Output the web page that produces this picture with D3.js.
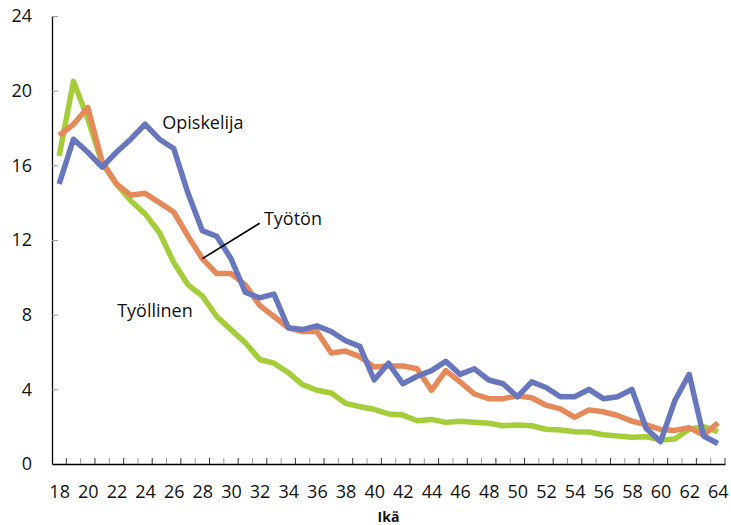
<!DOCTYPE html>
<html>
<head>
<meta charset="utf-8">
<script src="https://cdn.jsdelivr.net/npm/d3@7"></script>
<style>
  body { margin: 0; background: #fff; }
  svg { font-family: "Open Sans", "DejaVu Sans", sans-serif; }
</style>
</head>
<body>
<svg class="main" width="731" height="525"></svg>
<script>
// ikävuodet 18..64
const ages = d3.range(18, 65)

// Opiskelija
const opiskelija = [15.0, 17.4, 16.7, 15.9, 16.7, 17.4, 18.2, 17.4, 16.9, 14.5,
  12.5, 12.2, 11.0, 9.2, 8.9, 9.1, 7.3, 7.2, 7.4, 7.1,
  6.6, 6.3, 4.5, 5.4, 4.3, 4.7, 5.0, 5.5, 4.8, 5.1,
  4.5, 4.3, 3.6, 4.4, 4.1, 3.6, 3.6, 4.0, 3.5, 3.6,
  4.0, 1.9, 1.2, 3.4, 4.8, 1.5, 1.1]

// Työtön
const tyoton = [17.6, 18.2, 19.1, 16.2, 15.0, 14.4, 14.5, 14.0, 13.5, 12.2,
  11.0, 10.2, 10.2, 9.6, 8.5, 7.9, 7.3, 7.1, 7.1, 5.95,
  6.05, 5.75, 5.2, 5.25, 5.25, 5.1, 3.95, 5.0, 4.4, 3.75,
  3.5, 3.5, 3.65, 3.55, 3.15, 2.95, 2.5, 2.9, 2.8, 2.6,
  2.3, 2.1, 1.85, 1.8, 1.95, 1.55, 2.2]

// Työllinen
const tyollinen = [16.5, 20.5, 18.5, 16.1, 15.0, 14.1, 13.4, 12.4, 10.8, 9.6,
  9.0, 7.9, 7.2, 6.5, 5.6, 5.4, 4.9, 4.25, 3.95, 3.8,
  3.25, 3.07, 2.93, 2.68, 2.62, 2.32, 2.39, 2.23, 2.29, 2.24,
  2.18, 2.05, 2.09, 2.05, 1.86, 1.82, 1.73, 1.71, 1.57, 1.5,
  1.43, 1.46, 1.29, 1.34, 1.86, 2.0, 1.73]

const yTicks = [0, 4, 8, 12, 16, 20, 24]
const xTickLabels = ages.filter(a => a % 2 == 0)

const series = [
  {name: "Työllinen", values: tyollinen, color: "#a5cd39"},
  {name: "Työtön", values: tyoton, color: "#e5895a"},
  {name: "Opiskelija", values: opiskelija, color: "#6776bd"}
]

const svg = d3.select("svg.main")
const margin = {top: 16, right: 6, bottom: 61, left: 52}
const width = +svg.attr("width")
const height = +svg.attr("height")

const x = d3.scalePoint()
  .domain(ages)
  .range([margin.left, width - margin.right])
  .padding(0.5)
const step = x.step()

const y = d3.scaleLinear()
  .domain([0, 24])
  .range([height - margin.bottom, margin.top])

// y-akseli
const yAxis = svg.append("g")
  .attr("transform", `translate(${margin.left},0)`)
  .call(d3.axisLeft(y).tickValues(yTicks).tickSizeInner(-6).tickSizeOuter(0).tickPadding(20))
yAxis.select(".domain").attr("stroke", "#000").attr("stroke-width", 1.3)
yAxis.selectAll(".tick line").attr("stroke", "#999")
yAxis.selectAll(".tick text")
  .attr("font-size", 18).attr("fill", "#111")
  .attr("font-family", "Open Sans, sans-serif")

// x-akseli
const xAxis = svg.append("g")
  .attr("transform", `translate(0,${y(0)})`)
  .call(d3.axisBottom(x).tickValues(xTickLabels).tickSize(0).tickPadding(21))
xAxis.select(".domain").attr("stroke", "#000").attr("stroke-width", 1.3)
xAxis.selectAll(".tick text")
  .attr("font-size", 18).attr("fill", "#111")
  .attr("font-family", "Open Sans, sans-serif")

// väliviivat luokkien rajoilla
const bounds = ages.map(a => x(a) - step / 2).concat([x(64) + step / 2]).slice(1)
svg.append("g").selectAll("line")
  .data(bounds)
  .join("line")
  .attr("x1", d => d).attr("x2", d => d)
  .attr("y1", y(0)).attr("y2", y(0) - 6)
  .attr("stroke", (d, i) => i % 2 ? "#999" : "#333")
  .attr("stroke-width", 1)

svg.append("text")
  .attr("x", (margin.left + width - margin.right) / 2)
  .attr("y", 522)
  .attr("text-anchor", "middle")
  .attr("font-size", 14)
  .attr("font-weight", "bold")
  .attr("fill", "#111")
  .text("Ikä")

// viivat
const line = d3.line()
  .x((d, i) => x(ages[i]))
  .y(d => y(d))

svg.append("g").selectAll("path")
  .data(series)
  .join("path")
  .attr("d", d => line(d.values))
  .attr("fill", "none")
  .attr("stroke", d => d.color)
  .attr("stroke-width", 5.5)
  .attr("stroke-linejoin", "round")

// selitteet
const xa = a => x(18) + (a - 18) * step

svg.append("line")
  .attr("x1", x(28)).attr("y1", y(tyoton[10]))
  .attr("x2", xa(32)).attr("y2", y(12.9))
  .attr("stroke", "#000").attr("stroke-width", 1.6)

const labels = [
  {text: "Opiskelija", age: 25.2, v: 17.95},
  {text: "Työtön", age: 32.3, v: 12.8},
  {text: "Työllinen", age: 22.05, v: 7.85}
]
svg.append("g").selectAll("text")
  .data(labels)
  .join("text")
  .attr("x", d => xa(d.age))
  .attr("y", d => y(d.v))
  .attr("font-size", 18)
  .attr("fill", "#111")
  .text(d => d.text)
</script>
</body>
</html>
